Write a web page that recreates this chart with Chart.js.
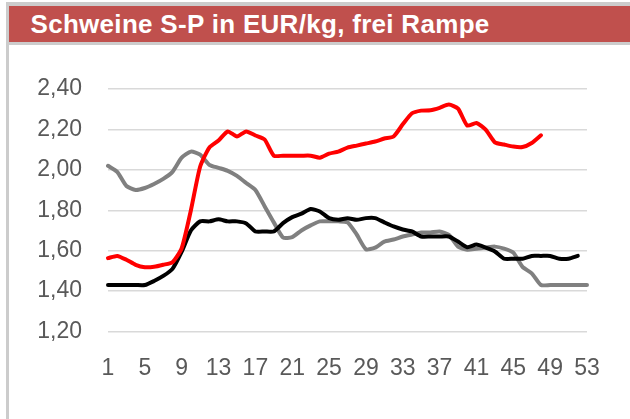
<!DOCTYPE html>
<html>
<head>
<meta charset="utf-8">
<script src="https://cdn.jsdelivr.net/npm/chart.js@4/dist/chart.umd.min.js"></script>
<style>
  html, body { margin: 0; padding: 0; background: #ffffff; }
  #wrap { position: relative; width: 630px; height: 419px; overflow: hidden; background: #fff; }
  #topband { position: absolute; left: 6px; top: 2px; width: 624px; height: 4px; background: #cccccc; }
  #leftband { position: absolute; left: 6px; top: 2px; width: 3px; height: 417px; background: #cccccc; }
  #underband { position: absolute; left: 9px; top: 42px; width: 621px; height: 3px; background: #cccccc; }
  #title { position: absolute; left: 9px; top: 6px; width: 621px; height: 36px; background: #C0504D;
           color: #ffffff; font-family: "Liberation Sans", Arial, sans-serif; font-weight: bold;
           font-size: 26px; line-height: 36px; letter-spacing: 0.3px; white-space: nowrap; }
  #title span { position: absolute; left: 21.5px; top: 0; }
  #c { position: absolute; left: 0; top: 0; }
</style>
</head>
<body>
<div id="wrap">
  <div id="topband"></div>
  <div id="leftband"></div>
  <div id="underband"></div>
  <div id="title"><span>Schweine S-P in EUR/kg, frei Rampe</span></div>
  <canvas id="c" width="630" height="419"></canvas>
</div>
<script>
// Week numbers (categories)
const weeks = [];
for (let w = 1; w <= 53; w++) weeks.push(String(w));

// Shown x tick labels
const xTickLabels = ["1","5","9","13","17","21","25","29","33","37","41","45","49","53"];

// Red series (current year, weeks 1-48)
const redSeries = [1.563,1.574,1.555,1.530,1.518,1.520,1.530,1.543,1.612,1.800,
                   2.015,2.110,2.145,2.190,2.165,2.190,2.170,2.150,2.070,2.070,
                   2.070,2.070,2.070,2.060,2.080,2.090,2.110,2.120,2.130,2.140,
                   2.155,2.165,2.225,2.280,2.293,2.295,2.307,2.323,2.303,2.219,
                   2.232,2.199,2.136,2.125,2.115,2.113,2.133,2.171];

// Black series (weeks 1-52)
const blackSeries = [1.430,1.430,1.430,1.430,1.430,1.450,1.475,1.510,1.595,1.700,
                     1.745,1.745,1.755,1.745,1.745,1.735,1.695,1.695,1.695,1.736,
                     1.766,1.783,1.806,1.794,1.761,1.753,1.761,1.753,1.761,1.761,
                     1.740,1.720,1.705,1.695,1.670,1.670,1.670,1.670,1.645,1.617,
                     1.630,1.615,1.596,1.560,1.560,1.560,1.574,1.574,1.574,1.560,
                     1.560,1.574];

// Gray series (weeks 1-53)
const graySeries = [2.020,1.990,1.920,1.900,1.910,1.930,1.955,1.990,2.060,2.090,
                    2.075,2.025,2.010,1.995,1.970,1.935,1.900,1.820,1.740,1.665,
                    1.667,1.700,1.725,1.745,1.745,1.745,1.740,1.680,1.607,1.615,
                    1.645,1.655,1.670,1.680,1.690,1.690,1.695,1.678,1.620,1.605,
                    1.610,1.615,1.620,1.610,1.590,1.520,1.488,1.430,1.430,1.430,
                    1.430,1.430,1.430];

// Y axis range
const yMin = 1.2, yMax = 2.4, yStep = 0.2;

const tickFont = { family: "'Liberation Sans', Arial, sans-serif", size: 23 };

new Chart(document.getElementById('c'), {
  type: 'line',
  data: {
    labels: weeks,
    datasets: [
      { data: redSeries, borderColor: '#FF0000', borderWidth: 4, tension: 0.2 },
      { data: blackSeries, borderColor: '#000000', borderWidth: 4, tension: 0.2 },
      { data: graySeries, borderColor: '#808080', borderWidth: 4, tension: 0.2 }
    ]
  },
  options: {
    responsive: false,
    animation: false,
    devicePixelRatio: 1,
    layout: { padding: { left: 10, right: 43, top: 89, bottom: 10 } },
    elements: {
      point: { radius: 0, hoverRadius: 0 },
      line: { borderCapStyle: 'round', borderJoinStyle: 'round', fill: false }
    },
    plugins: { legend: { display: false }, tooltip: { enabled: false }, title: { display: false } },
    scales: {
      x: {
        type: 'category',
        offset: false,
        grid: { display: false, drawTicks: false },
        border: { display: false },
        afterFit: (s) => { s.height = 77.5; },
        ticks: {
          autoSkip: false, maxRotation: 0, minRotation: 0,
          color: '#595959', font: tickFont, padding: 23,
          callback: function (val, idx) {
            const lab = this.getLabelForValue(val);
            return xTickLabels.includes(lab) ? lab : null;
          }
        }
      },
      y: {
        min: yMin, max: yMax,
        grid: { color: '#D9D9D9', lineWidth: 1.5, drawTicks: false },
        border: { display: false },
        afterFit: (s) => { s.width = 98; },
        ticks: {
          stepSize: yStep, color: '#595959', font: tickFont, padding: 26,
          callback: (v) => Number(v).toFixed(2).replace('.', ',')
        }
      }
    }
  }
});
</script>
</body>
</html>
